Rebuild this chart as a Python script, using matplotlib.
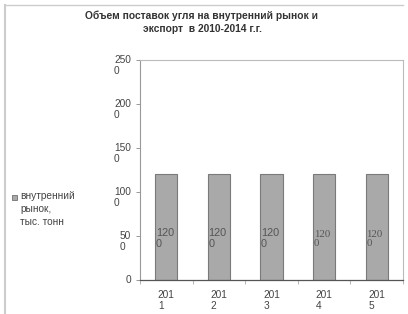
import matplotlib.pyplot as plt
from matplotlib.patches import Rectangle
from matplotlib.lines import Line2D

years = ["201\n1", "201\n2", "201\n3", "201\n4", "201\n5"]
values = [1200, 1200, 1200, 1200, 1200]
value_labels = ["120\n0", "120\n0", "120\n0", "120\n0", "120\n0"]
y_ticks = [0, 500, 1000, 1500, 2000, 2500]
y_tick_labels = ["0", "50\n0", "100\n0", "150\n0", "200\n0", "250\n0"]
series_name = "внутренний\nрынок,\nтыс. тонн"
title = "Объем поставок угля на внутренний рынок и\nэкспорт  в 2010-2014 г.г."

plt.rcParams["font.family"] = ["Liberation Sans", "DejaVu Sans"]
txt = "#444444"

fig = plt.figure(figsize=(4.08, 3.14), dpi=100)
ax = fig.add_axes([0.343, 0.108, 0.645, 0.701])

x = list(range(len(years)))
bars = ax.bar(x, values, width=0.42, color="#a9a9a9", edgecolor="#7a7a7a", linewidth=0.8)
ax.set_xlim(-0.5, len(years) - 0.5)
ax.set_ylim(0, 2500)

# value labels inside bars (the scan shows the last two in a serif face)
label_fonts = ["Liberation Sans", "Liberation Sans", "Liberation Sans", "Liberation Serif", "Liberation Serif"]
for b, lab, fam in zip(bars, value_labels, label_fonts):
    ax.text(b.get_x() + 0.01, b.get_height() * 0.39, lab, ha="left", va="center",
            fontsize=7.8, color="#555555", family=fam, linespacing=1.1)

# y tick labels: first line sits at the tick
ax.set_yticks(y_ticks)
ax.set_yticklabels([])
for v, lab in zip(y_ticks, y_tick_labels):
    ax.annotate(lab, xy=(0, v), xycoords=("axes fraction", "data"),
                xytext=(-9, 5), textcoords="offset pixels",
                ha="right", va="top", multialignment="left",
                fontsize=7.3, color=txt, linespacing=1.15)
ax.tick_params(axis="y", length=3, color="#888888", width=0.6)

# x ticks between categories, labels under each category
ax.set_xticks([i + 0.5 for i in x[:-1]] + [-0.5, len(years) - 0.5])
ax.set_xticklabels([])
ax.tick_params(axis="x", length=3, color="#aaaaaa", width=0.6)
for i, lab in zip(x, years):
    ax.annotate(lab, xy=(i, 0), xycoords=("data", "axes fraction"),
                xytext=(0, -10), textcoords="offset pixels",
                ha="center", va="top", multialignment="left",
                fontsize=7.3, color=txt, linespacing=1.15)

for s in ["top", "right"]:
    ax.spines[s].set_color("#bbbbbb")
    ax.spines[s].set_linewidth(0.8)
ax.spines["left"].set_color("#999999")
ax.spines["left"].set_linewidth(0.8)
ax.spines["bottom"].set_color("#555555")
ax.spines["bottom"].set_linewidth(0.9)

fig.text(0.495, 0.968, title, ha="center", va="top", fontsize=7.4,
         fontweight="bold", color="#333333", linespacing=1.4)

# legend
fig.patches.append(Rectangle((12 / 408, 1 - 200 / 314), 5 / 408, 5 / 314,
                             transform=fig.transFigure, facecolor="#a9a9a9",
                             edgecolor="#707070", linewidth=0.6))
fig.text(20 / 408, 1 - 191 / 314, series_name, ha="left", va="top",
         fontsize=7.3, color=txt, linespacing=1.4)

# outer frame of the scanned chart
fig.lines.append(Line2D([5 / 408, 403 / 408], [1 - 5 / 314, 1 - 5 / 314],
                        transform=fig.transFigure, color="#cccccc", lw=1))
fig.lines.append(Line2D([5 / 408, 5 / 408], [0, 1 - 5 / 314],
                        transform=fig.transFigure, color="#cccccc", lw=1.5))

fig.savefig("out.png", dpi=100)
